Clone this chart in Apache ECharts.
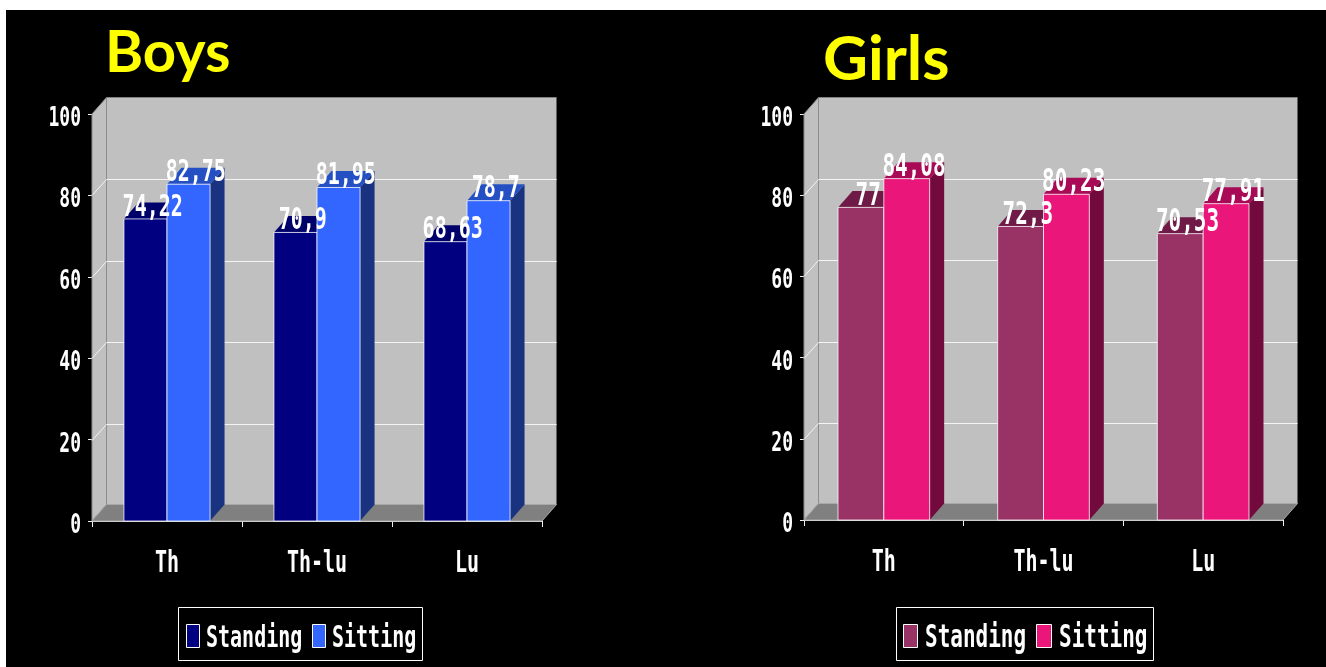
<!DOCTYPE html>
<html>
<head>
<meta charset="utf-8">
<title>Boys and Girls</title>
<style>
  html, body { margin: 0; padding: 0; background: #fff; }
  #chart { width: 1326px; height: 667px; }
</style>
<script src="https://cdn.jsdelivr.net/npm/echarts@6/dist/echarts.min.js"></script>
</head>
<body>
<div id="chart"></div>
<script>
const categories = ['Th', 'Th-lu', 'Lu']
const yTicks = [0, 20, 40, 60, 80, 100]
const boysStanding = [74.22, 70.9, 68.63]
const boysSitting = [82.75, 81.95, 78.7]
const girlsStanding = [77, 72.3, 70.53]
const girlsSitting = [84.08, 80.23, 77.91]

const MONO = '"DejaVu Sans Mono"'
const DEPTH_X = 14.5
const DEPTH_Y = 16.5
const STRETCH = 1.5

const blues = {
  standing: { front: '#000080', top: '#00006a', side: '#000060' },
  sitting: { front: '#3366ff', top: '#2450c4', side: '#1a3380' }
}
const pinks = {
  standing: { front: '#993366', top: '#6f1a47', side: '#6f1a47' },
  sitting: { front: '#ea1679', top: '#a80a55', side: '#730a3e' }
}

const stretchedText = (text, x, y, size, align) => ({
  type: 'text',
  x,
  y,
  scaleY: STRETCH,
  silent: true,
  style: {
    text,
    x: 0,
    y: 0,
    fill: '#fff',
    font: `bold ${size}px ${MONO}`,
    align,
    verticalAlign: 'middle'
  }
})

const comma = v => String(v).replace('.', ',')

// side wall, back wall, floor and the gridlines printed on them
const wallSeries = gridIndex => ({
  type: 'custom',
  xAxisIndex: gridIndex,
  yAxisIndex: gridIndex,
  z: 1,
  silent: true,
  data: [[0, 0]],
  renderItem: (params, api) => {
    const { x, y, width, height } = params.coordSys
    const bottom = y + height
    const wall = [
      { type: 'polygon', shape: { points: [[x + DEPTH_X, y - DEPTH_Y], [x + width + DEPTH_X, y - DEPTH_Y], [x + width + DEPTH_X, bottom - DEPTH_Y], [x + DEPTH_X, bottom - DEPTH_Y]] }, style: { fill: '#c0c0c0' } },
      { type: 'polygon', shape: { points: [[x, y], [x + DEPTH_X, y - DEPTH_Y], [x + DEPTH_X, bottom - DEPTH_Y], [x, bottom]] }, style: { fill: '#c0c0c0', stroke: '#8c8c8c', lineWidth: 1 } },
      { type: 'polygon', shape: { points: [[x, bottom], [x + DEPTH_X, bottom - DEPTH_Y], [x + width + DEPTH_X, bottom - DEPTH_Y], [x + width, bottom]] }, style: { fill: '#808080', stroke: '#a8a8a8', lineWidth: 1 } },
      { type: 'line', shape: { x1: x + DEPTH_X, y1: y - DEPTH_Y, x2: x + width + DEPTH_X, y2: y - DEPTH_Y }, style: { stroke: '#808080', lineWidth: 1 } }
    ]
    yTicks.slice(1, -1).forEach(t => {
      const ty = Math.round(api.coord([0, t])[1]) + 0.5
      wall.push({ type: 'polyline', shape: { points: [[x, ty], [x + DEPTH_X, ty - 16], [x + width + DEPTH_X, ty - 16]] }, style: { fill: null, stroke: '#f4f4f4', lineWidth: 1 } })
    })
    return { type: 'group', children: wall }
  }
})

const barSeries = (gridIndex, values, colors, slot) => ({
  type: 'custom',
  xAxisIndex: gridIndex,
  yAxisIndex: gridIndex,
  z: 2 + slot,
  silent: true,
  data: values.map((v, i) => [i, v]),
  renderItem: (params, api) => {
    const base = api.coord([api.value(0), 0])
    const top = api.coord([api.value(0), api.value(1)])
    const w = api.size([1, 0])[0] * 0.287
    const x0 = base[0] - w + slot * w
    const x1 = x0 + w
    const edge = 'rgba(255,255,255,0.75)'
    return {
      type: 'group',
      children: [
        { type: 'polygon', shape: { points: [[x1, top[1]], [x1 + DEPTH_X, top[1] - DEPTH_Y], [x1 + DEPTH_X, base[1] - DEPTH_Y], [x1, base[1]]] }, style: { fill: colors.side } },
        { type: 'polygon', shape: { points: [[x0, top[1]], [x0 + DEPTH_X, top[1] - DEPTH_Y], [x1 + DEPTH_X, top[1] - DEPTH_Y], [x1, top[1]]] }, style: { fill: colors.top } },
        { type: 'rect', shape: { x: x0, y: top[1], width: w, height: base[1] - top[1] }, style: { fill: colors.front, stroke: edge, lineWidth: 1 } }
      ]
    }
  }
})

const barLabelSeries = (gridIndex, values, slot, size) => ({
  type: 'custom',
  xAxisIndex: gridIndex,
  yAxisIndex: gridIndex,
  z: 5,
  silent: true,
  data: values.map((v, i) => [i, v]),
  renderItem: (params, api) => {
    const top = api.coord([api.value(0), api.value(1)])
    const w = api.size([1, 0])[0] * 0.287
    const cx = top[0] - w + slot * w + w / 2 + DEPTH_X / 2
    return stretchedText(comma(api.value(1)), cx, top[1] - 11, size, 'center')
  }
})

// tick labels are drawn here so that the tall, narrow lettering can be kept
const yLabelSeries = (gridIndex, size) => ({
  type: 'custom',
  xAxisIndex: gridIndex,
  yAxisIndex: gridIndex,
  z: 5,
  silent: true,
  data: yTicks.map(t => [0, t]),
  renderItem: (params, api) => {
    const y = api.coord([0, api.value(1)])[1]
    return stretchedText(String(api.value(1)), params.coordSys.x - 11, y + 5, size, 'right')
  }
})

const xLabelSeries = (gridIndex, size) => ({
  type: 'custom',
  xAxisIndex: gridIndex,
  yAxisIndex: gridIndex,
  z: 5,
  silent: true,
  data: categories.map((c, i) => [i, 0]),
  renderItem: (params, api) => {
    const p = api.coord([api.value(0), 0])
    return stretchedText(categories[api.value(0)], p[0], p[1] + 43, size, 'center')
  }
})

const legendBox = (box, items, size) => {
  const out = [{
    type: 'rect',
    shape: box,
    style: { fill: '#000', stroke: '#fff', lineWidth: 1 }
  }]
  items.forEach(it => {
    out.push({ type: 'rect', shape: { x: it.x, y: 624.5, width: it.w, height: 23 }, style: { fill: it.color, stroke: '#fff', lineWidth: 1 } })
    out.push(stretchedText(it.name, it.textX, 639, size, 'left'))
  })
  return out
}

const axisColor = '#f0f0f0'
const xAxis = gridIndex => ({
  type: 'category',
  gridIndex,
  data: categories,
  axisLine: { lineStyle: { color: axisColor, width: 1 } },
  axisTick: { show: true, length: 6, lineStyle: { color: axisColor } },
  axisLabel: { show: false }
})
const yAxis = gridIndex => ({
  type: 'value',
  gridIndex,
  min: 0,
  max: 100,
  interval: 20,
  axisLine: { show: true, lineStyle: { color: '#b0b0b0', width: 1 } },
  axisTick: { show: true, length: 4, lineStyle: { color: axisColor } },
  axisLabel: { show: false },
  splitLine: { show: false }
})

const titleStyle = { color: '#ffff00', fontFamily: 'Lato', fontWeight: 'bold' }

const option = {
  animation: false,
  title: [
    { text: 'Boys', left: 100, top: 19, textStyle: { ...titleStyle, fontSize: 58 } },
    { text: 'Girls', left: 818, top: 24, textStyle: { ...titleStyle, fontSize: 62 } }
  ],
  grid: [
    { left: 92, top: 114, width: 450, height: 407 },
    { left: 804, top: 114, width: 479, height: 406 }
  ],
  xAxis: [xAxis(0), xAxis(1)],
  yAxis: [yAxis(0), yAxis(1)],
  series: [
    wallSeries(0),
    barSeries(0, boysStanding, blues.standing, 0),
    barSeries(0, boysSitting, blues.sitting, 1),
    barLabelSeries(0, boysStanding, 0, 20),
    barLabelSeries(0, boysSitting, 1, 20),
    yLabelSeries(0, 18),
    xLabelSeries(0, 20),
    wallSeries(1),
    barSeries(1, girlsStanding, pinks.standing, 0),
    barSeries(1, girlsSitting, pinks.sitting, 1),
    barLabelSeries(1, girlsStanding, 0, 21),
    barLabelSeries(1, girlsSitting, 1, 21),
    yLabelSeries(1, 18),
    xLabelSeries(1, 20)
  ],
  graphic: [
    { type: 'rect', z: -10, silent: true, shape: { x: 6, y: 10, width: 1320, height: 657 }, style: { fill: '#000' } },
    ...legendBox({ x: 178.5, y: 607.5, width: 244, height: 53 }, [
      { name: 'Standing', color: blues.standing.front, x: 186.5, w: 13, textX: 206 },
      { name: 'Sitting', color: blues.sitting.front, x: 312.5, w: 13, textX: 332 }
    ], 20),
    ...legendBox({ x: 896.5, y: 607.5, width: 257, height: 53 }, [
      { name: 'Standing', color: pinks.standing.front, x: 903.5, w: 14, textX: 925 },
      { name: 'Sitting', color: pinks.sitting.front, x: 1036.5, w: 15, textX: 1059 }
    ], 21)
  ]
}

const chart = echarts.init(document.getElementById('chart'))
chart.setOption(option)
window.addEventListener('resize', () => chart.resize())
</script>
</body>
</html>
